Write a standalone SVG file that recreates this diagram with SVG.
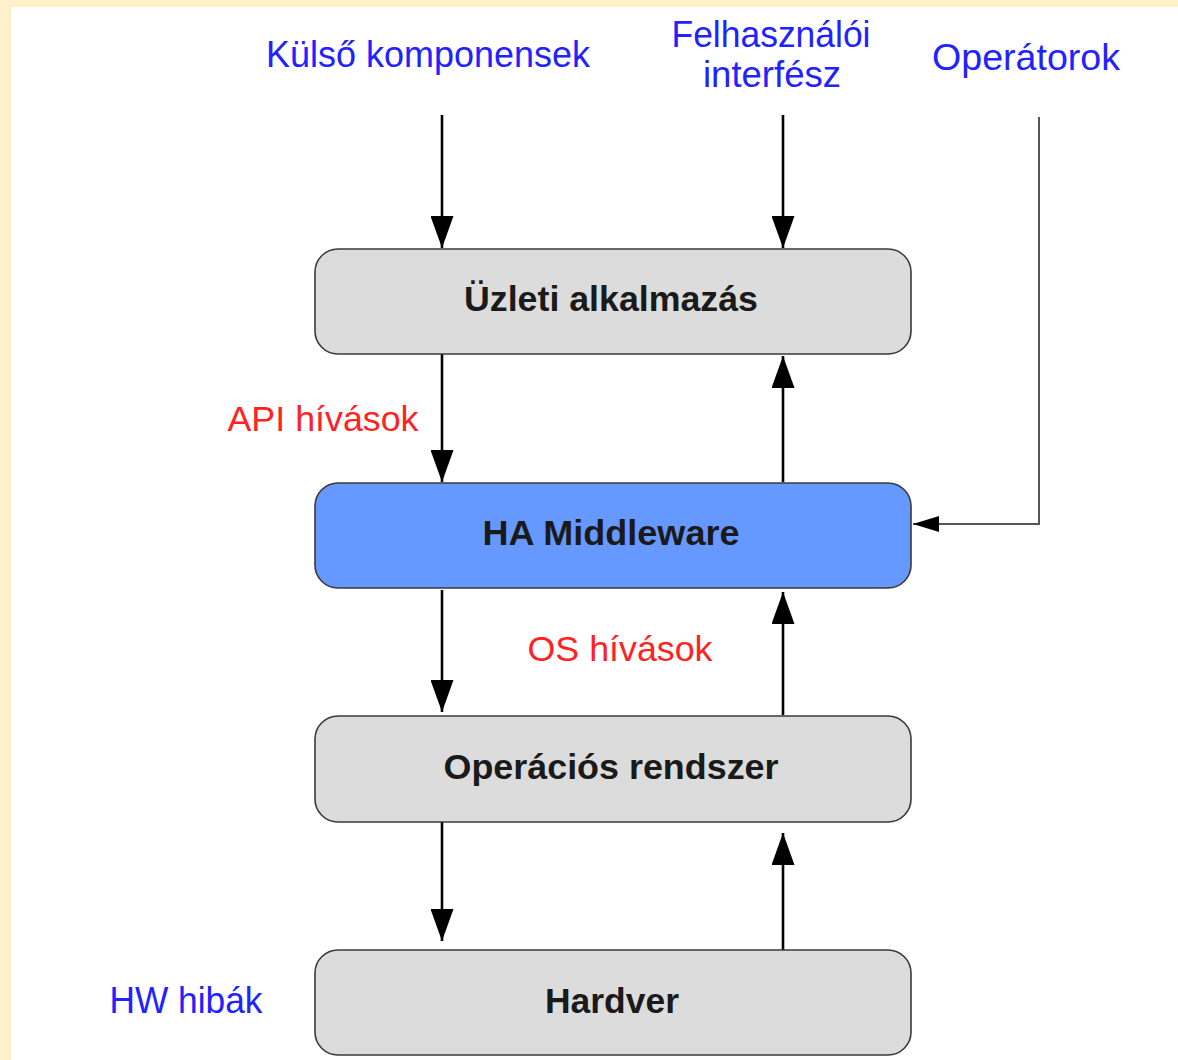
<svg xmlns="http://www.w3.org/2000/svg" width="1178" height="1060" viewBox="0 0 1178 1060">
<style>
.box{fill:#dcdcdc;stroke:#3a3a3a;stroke-width:1.6}
.ha{fill:#6699ff}
.lbl{font-family:"Liberation Sans",Arial,sans-serif;font-weight:bold;font-size:35px;fill:#1a1a1a;text-anchor:middle}
.blue{font-family:"Liberation Sans",Arial,sans-serif;font-size:36px;fill:#2222ff;text-anchor:middle}
.red{font-family:"Liberation Sans",Arial,sans-serif;font-size:35px;fill:#ff2222;text-anchor:middle}
.conn{stroke:#000;stroke-width:2.6;fill:none;marker-end:url(#ah)}
.thin{stroke:#555;stroke-width:2;fill:none;marker-end:url(#ahs)}
</style>
<defs>
<marker id="ah" markerUnits="userSpaceOnUse" markerWidth="32" markerHeight="23" refX="32" refY="11.5" orient="auto"><path d="M0,0 L32,11.5 L0,23 z" fill="#000"/></marker>
<marker id="ahs" markerUnits="userSpaceOnUse" markerWidth="26" markerHeight="16" refX="26" refY="8" orient="auto"><path d="M0,0 L26,8 L0,16 z" fill="#000"/></marker>
</defs>
<rect x="0" y="0" width="1178" height="1060" fill="#fef0c8"/>
<rect x="11" y="7" width="1167" height="1053" fill="#fff"/>

<g id="labels">
<text class="blue" x="428" y="67" textLength="324" lengthAdjust="spacingAndGlyphs">Külső komponensek</text>
<text class="blue" x="771" y="47" textLength="199" lengthAdjust="spacingAndGlyphs">Felhasználói</text>
<text class="blue" x="772" y="87" textLength="138" lengthAdjust="spacingAndGlyphs">interfész</text>
<text class="blue" x="1026" y="70" textLength="188" lengthAdjust="spacingAndGlyphs">Operátorok</text>
<text class="red" x="323" y="431" textLength="191" lengthAdjust="spacingAndGlyphs">API hívások</text>
<text class="red" x="620" y="661" textLength="185" lengthAdjust="spacingAndGlyphs">OS hívások</text>
<text class="blue" x="186" y="1013" textLength="153" lengthAdjust="spacingAndGlyphs">HW hibák</text>
</g>

<g id="connectors">
<line class="conn" x1="442" y1="115" x2="442" y2="248"/>
<line class="conn" x1="783" y1="115" x2="783" y2="248"/>
<line class="conn" x1="442" y1="354" x2="442" y2="482"/>
<line class="conn" x1="783" y1="482" x2="783" y2="356"/>
<line class="conn" x1="442" y1="590" x2="442" y2="712"/>
<line class="conn" x1="783" y1="715" x2="783" y2="592"/>
<line class="conn" x1="442" y1="822" x2="442" y2="941"/>
<line class="conn" x1="783" y1="950" x2="783" y2="833"/>
<polyline class="thin" points="1039,117 1039,524 913,524"/>
</g>

<g id="node-uzleti">
<rect class="box" x="315" y="249" width="596" height="105" rx="23" ry="23"/>
<text class="lbl" x="611" y="311" textLength="294" lengthAdjust="spacingAndGlyphs">Üzleti alkalmazás</text>
</g>
<g id="node-ha">
<rect class="box ha" x="315" y="483" width="596" height="105" rx="23" ry="23"/>
<text class="lbl" x="611" y="545" textLength="257" lengthAdjust="spacingAndGlyphs">HA Middleware</text>
</g>
<g id="node-os">
<rect class="box" x="315" y="716" width="596" height="106" rx="23" ry="23"/>
<text class="lbl" x="611" y="779" textLength="335" lengthAdjust="spacingAndGlyphs">Operációs rendszer</text>
</g>
<g id="node-hw">
<rect class="box" x="315" y="950" width="596" height="105" rx="23" ry="23"/>
<text class="lbl" x="612" y="1013" textLength="134" lengthAdjust="spacingAndGlyphs">Hardver</text>
</g>
</svg>
